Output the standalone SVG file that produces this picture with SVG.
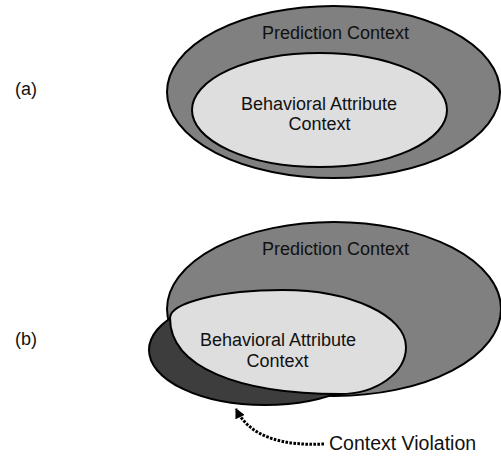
<svg xmlns="http://www.w3.org/2000/svg" width="501" height="457" viewBox="0 0 501 457">
  <style>
    .lbl { font-family: "Liberation Sans", Arial, sans-serif; font-size: 18px; fill: #111; }
    .mid { text-anchor: middle; }
    .outer { fill: #808080; stroke: #000; stroke-width: 2; }
    .inner { fill: #dedede; stroke: #000; stroke-width: 2; }
    .dark { fill: #3d3d3d; stroke: #000; stroke-width: 2; }
    .conn { fill: none; stroke: #000; stroke-width: 3; stroke-dasharray: 2.6 1.4; }
  </style>
  <defs>
    <marker id="ah" viewBox="0 0 10 10" refX="9" refY="5" markerWidth="11" markerHeight="10" markerUnits="userSpaceOnUse" orient="auto">
      <path d="M0,0 L10,5 L0,10 z" fill="#000"/>
    </marker>
  </defs>

  <g id="label-a"><text class="lbl" x="15" y="95">(a)</text></g>

  <g id="prediction-context-a">
    <ellipse class="outer" cx="333.5" cy="92" rx="166.5" ry="86"/>
    <text class="lbl mid" x="335.5" y="39">Prediction Context</text>
  </g>
  <g id="behavioral-context-a">
    <ellipse class="inner" cx="319.5" cy="110" rx="127.5" ry="57"/>
    <text class="lbl mid" x="319" y="110">Behavioral Attribute</text>
    <text class="lbl mid" x="319.5" y="129.5">Context</text>
  </g>

  <g id="label-b"><text class="lbl" x="15" y="345">(b)</text></g>

  <g id="prediction-context-b">
    <ellipse class="outer" cx="334" cy="309" rx="167" ry="87"/>
    <text class="lbl mid" x="335.5" y="255">Prediction Context</text>
  </g>
  <g id="violation-region-b">
    <ellipse class="dark" cx="265" cy="350" rx="116" ry="55"/>
  </g>
  <g id="behavioral-context-b">
    <path class="inner" d="M170,318 C170,302.6 220.8,290 283,290 C350.7,290 406,315.7 406,347 C406,372.9 376.3,394 340,394 C238,394 170,367 170,318 Z"/>
    <text class="lbl mid" x="278" y="346">Behavioral Attribute</text>
    <text class="lbl mid" x="277.5" y="367">Context</text>
  </g>

  <g id="context-violation">
    <text class="lbl" x="329" y="450" style="font-size:19.5px">Context Violation</text>
  </g>

  <g id="connectors">
    <path class="conn" d="M324,444 C285,446 250,438 236,409" marker-end="url(#ah)"/>
  </g>
</svg>
